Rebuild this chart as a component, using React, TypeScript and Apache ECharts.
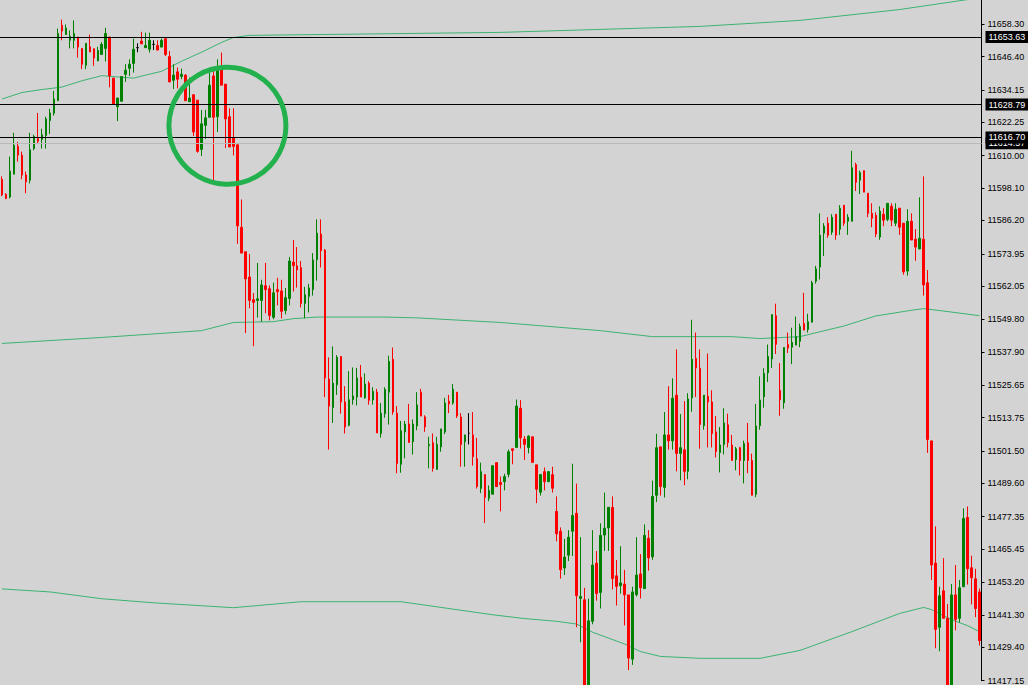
import React, { useEffect, useRef } from "react";
import * as echarts from "echarts";

// [open, close, low, high]
const candles: number[][] = [
  [11601.3, 11595.6, 11595.1, 11602.4], [11595.8, 11594.3, 11594.0, 11596.2], [11594.8, 11604.3, 11594.3, 11609.7], [11603.2, 11613.8, 11603.2, 11618.4],
  [11613.4, 11610.2, 11607.8, 11615.1], [11610.2, 11602.9, 11601.3, 11611.5], [11602.9, 11600.4, 11596.2, 11604.2], [11601.0, 11612.2, 11599.8, 11618.4],
  [11612.6, 11617.0, 11612.0, 11617.7], [11616.2, 11615.3, 11614.4, 11625.7], [11616.0, 11617.7, 11612.6, 11619.9], [11617.4, 11623.5, 11612.6, 11624.3],
  [11622.9, 11625.7, 11618.0, 11627.2], [11625.6, 11630.8, 11624.7, 11633.8], [11630.2, 11654.9, 11630.2, 11656.7], [11657.9, 11655.8, 11652.4, 11660.0],
  [11654.5, 11656.9, 11654.5, 11658.2], [11652.4, 11653.9, 11649.4, 11656.0], [11652.4, 11654.9, 11649.4, 11659.7], [11653.6, 11649.9, 11646.0, 11653.6],
  [11649.4, 11643.6, 11641.8, 11649.4], [11643.2, 11651.3, 11641.8, 11651.3], [11650.0, 11648.1, 11648.1, 11654.5], [11649.3, 11645.9, 11643.0, 11649.3],
  [11644.8, 11648.7, 11644.8, 11650.0], [11647.2, 11650.9, 11647.2, 11651.7], [11649.4, 11654.9, 11644.6, 11657.0], [11653.6, 11639.3, 11635.1, 11653.6],
  [11638.5, 11629.0, 11629.0, 11638.5], [11628.0, 11631.2, 11622.7, 11631.2], [11630.0, 11639.1, 11630.0, 11639.1], [11639.9, 11641.4, 11637.1, 11643.6],
  [11642.1, 11643.6, 11639.3, 11645.4], [11643.9, 11649.1, 11640.5, 11653.0], [11649.7, 11649.7, 11648.0, 11651.3], [11652.1, 11651.1, 11651.1, 11655.5],
  [11649.7, 11650.5, 11649.7, 11655.2], [11649.1, 11652.4, 11647.9, 11655.2], [11650.9, 11650.9, 11648.8, 11652.4], [11650.5, 11648.8, 11648.8, 11652.4],
  [11649.9, 11652.4, 11649.9, 11653.0], [11653.0, 11647.2, 11646.6, 11653.0], [11646.4, 11637.1, 11637.1, 11648.4], [11637.7, 11639.6, 11634.5, 11643.6],
  [11640.8, 11638.1, 11634.7, 11642.4], [11639.1, 11639.9, 11638.1, 11642.0], [11639.6, 11630.2, 11630.2, 11639.9], [11629.8, 11631.2, 11629.8, 11638.7],
  [11632.4, 11618.7, 11617.2, 11632.4], [11630.4, 11611.6, 11611.1, 11630.4], [11612.3, 11621.7, 11609.9, 11626.8], [11621.1, 11623.9, 11616.2, 11626.8],
  [11624.1, 11635.9, 11624.1, 11640.5], [11639.3, 11624.1, 11600.4, 11641.5], [11624.3, 11641.5, 11618.7, 11645.4], [11641.5, 11635.9, 11635.9, 11647.9],
  [11636.3, 11623.5, 11612.8, 11636.3], [11624.3, 11613.2, 11613.2, 11627.4], [11616.5, 11613.4, 11610.1, 11627.4], [11614.0, 11584.2, 11577.6, 11614.0],
  [11583.7, 11574.2, 11574.2, 11593.9], [11574.7, 11564.7, 11544.8, 11574.7], [11565.4, 11556.8, 11553.9, 11573.9], [11557.1, 11556.1, 11540.0, 11559.5],
  [11556.8, 11557.4, 11550.5, 11570.6], [11556.8, 11562.5, 11549.0, 11564.4], [11562.2, 11560.8, 11552.1, 11570.6], [11561.1, 11551.3, 11549.5, 11562.3],
  [11550.6, 11559.6, 11549.9, 11563.3], [11560.8, 11560.0, 11555.0, 11565.1], [11560.3, 11552.8, 11550.2, 11564.4], [11553.1, 11557.8, 11551.7, 11561.4],
  [11557.5, 11571.3, 11555.0, 11572.8], [11570.9, 11569.6, 11560.1, 11579.0], [11569.5, 11568.0, 11561.5, 11576.4], [11568.8, 11555.7, 11554.2, 11571.3],
  [11555.7, 11558.9, 11550.2, 11561.8], [11558.3, 11561.4, 11552.4, 11562.9], [11560.8, 11571.7, 11558.6, 11574.2], [11571.8, 11581.5, 11564.1, 11586.6],
  [11581.2, 11575.1, 11568.9, 11586.6], [11575.3, 11528.3, 11521.3, 11575.7], [11527.9, 11518.0, 11502.0, 11535.9], [11517.4, 11526.4, 11511.8, 11539.9],
  [11525.8, 11535.9, 11522.1, 11536.7], [11536.2, 11519.5, 11515.2, 11536.2], [11519.5, 11510.3, 11507.9, 11525.3], [11510.9, 11520.3, 11510.6, 11530.8],
  [11520.3, 11521.7, 11518.5, 11532.2], [11521.3, 11528.3, 11518.2, 11532.0], [11528.6, 11521.3, 11521.3, 11533.1], [11521.0, 11526.1, 11520.7, 11530.0],
  [11526.4, 11520.1, 11518.5, 11527.1], [11520.3, 11523.4, 11518.5, 11524.9], [11523.1, 11508.1, 11508.1, 11524.3], [11507.9, 11515.4, 11506.4, 11519.1],
  [11515.2, 11524.1, 11513.7, 11524.9], [11523.1, 11534.4, 11511.2, 11536.5], [11535.2, 11515.8, 11514.8, 11539.5], [11515.4, 11496.9, 11493.3, 11518.0],
  [11496.6, 11508.9, 11493.5, 11512.5], [11508.5, 11511.4, 11498.8, 11512.5], [11511.4, 11504.6, 11504.6, 11518.8], [11504.9, 11511.4, 11500.2, 11513.1],
  [11510.7, 11518.4, 11509.1, 11523.1], [11523.1, 11514.3, 11514.3, 11524.3], [11514.0, 11510.3, 11508.5, 11514.6], [11503.4, 11503.9, 11495.1, 11506.7],
  [11504.5, 11495.1, 11493.9, 11507.9], [11494.7, 11503.9, 11494.7, 11506.7], [11503.0, 11509.6, 11501.2, 11509.6], [11508.5, 11519.1, 11507.7, 11521.0],
  [11519.8, 11518.8, 11515.4, 11522.1], [11519.1, 11524.2, 11518.5, 11526.1], [11523.1, 11514.3, 11513.6, 11523.1], [11514.0, 11503.9, 11495.7, 11515.4],
  [11504.9, 11507.4, 11495.7, 11507.4], [11508.0, 11508.0, 11503.9, 11515.4], [11507.4, 11499.4, 11496.1, 11515.8], [11498.6, 11488.4, 11487.7, 11506.3],
  [11487.7, 11493.9, 11486.0, 11497.2], [11492.8, 11484.4, 11475.0, 11492.8], [11484.1, 11487.0, 11483.0, 11488.8], [11485.6, 11496.1, 11485.6, 11496.1],
  [11497.2, 11488.4, 11488.4, 11497.2], [11489.9, 11489.2, 11479.3, 11492.1], [11490.2, 11492.1, 11487.0, 11493.1], [11492.9, 11501.2, 11491.8, 11502.0],
  [11502.3, 11501.7, 11496.6, 11502.3], [11502.8, 11518.0, 11502.8, 11520.4], [11517.2, 11506.3, 11502.4, 11520.2], [11505.9, 11503.9, 11498.2, 11507.0],
  [11502.8, 11506.9, 11500.6, 11507.3], [11506.7, 11497.3, 11497.3, 11506.7], [11496.4, 11487.4, 11482.3, 11496.4], [11486.3, 11492.8, 11485.1, 11492.8],
  [11493.9, 11490.2, 11487.0, 11495.4], [11490.2, 11493.9, 11490.2, 11493.9], [11492.8, 11487.8, 11486.2, 11495.7], [11479.3, 11471.0, 11468.3, 11484.8],
  [11472.0, 11457.8, 11454.6, 11473.4], [11458.5, 11462.5, 11455.9, 11469.2], [11463.2, 11469.8, 11461.0, 11472.4], [11472.0, 11477.8, 11462.9, 11496.8],
  [11478.6, 11448.3, 11436.7, 11489.5], [11447.3, 11448.0, 11431.2, 11469.8], [11446.8, 11411.7, 11408.1, 11451.2], [11411.7, 11439.1, 11409.9, 11447.2],
  [11438.9, 11459.6, 11437.8, 11472.4], [11460.3, 11449.1, 11446.5, 11464.7], [11449.5, 11470.5, 11443.6, 11474.9], [11470.6, 11473.1, 11464.8, 11486.2],
  [11473.2, 11480.8, 11464.8, 11480.8], [11480.8, 11454.6, 11450.6, 11484.8], [11455.6, 11451.7, 11444.7, 11461.4], [11452.0, 11453.0, 11449.1, 11466.5],
  [11452.6, 11448.6, 11437.4, 11457.8], [11448.6, 11425.4, 11421.0, 11448.6], [11425.0, 11449.7, 11422.9, 11451.6], [11448.7, 11455.9, 11448.0, 11469.8],
  [11456.3, 11451.2, 11447.3, 11463.6], [11450.9, 11470.5, 11450.9, 11474.5], [11469.4, 11462.2, 11457.5, 11472.4], [11462.6, 11484.8, 11461.5, 11490.6],
  [11485.2, 11502.7, 11482.7, 11507.8], [11503.0, 11488.4, 11485.1, 11503.0], [11488.1, 11507.4, 11484.4, 11515.8], [11507.4, 11505.2, 11502.0, 11525.3],
  [11505.2, 11520.9, 11502.0, 11528.2], [11522.0, 11500.6, 11494.0, 11538.8], [11500.6, 11502.7, 11490.7, 11515.1], [11501.9, 11494.0, 11488.9, 11519.8],
  [11494.0, 11520.6, 11491.1, 11522.7], [11521.0, 11535.2, 11515.9, 11549.7], [11535.5, 11532.0, 11521.3, 11545.0], [11531.9, 11511.2, 11502.3, 11538.8],
  [11510.8, 11522.0, 11509.3, 11522.0], [11521.6, 11519.5, 11502.8, 11537.3], [11519.5, 11507.9, 11502.8, 11523.8], [11508.5, 11501.3, 11499.1, 11514.3],
  [11500.9, 11503.7, 11493.6, 11510.3], [11503.9, 11511.8, 11500.2, 11517.2], [11511.1, 11504.6, 11502.8, 11515.2], [11503.7, 11498.0, 11498.0, 11507.4],
  [11498.3, 11502.3, 11494.4, 11503.0], [11502.7, 11498.0, 11492.5, 11503.0], [11498.0, 11504.2, 11489.6, 11505.3], [11504.5, 11498.0, 11493.3, 11511.8],
  [11498.0, 11485.2, 11485.2, 11500.5], [11485.6, 11510.7, 11484.5, 11518.8], [11510.8, 11520.2, 11509.3, 11528.9], [11521.4, 11530.0, 11517.4, 11531.9],
  [11530.2, 11536.2, 11526.8, 11540.6], [11535.3, 11551.6, 11532.0, 11551.6], [11551.2, 11540.7, 11537.1, 11555.6], [11523.8, 11520.3, 11514.4, 11533.8],
  [11519.2, 11539.5, 11517.0, 11539.5], [11540.6, 11539.3, 11537.5, 11545.0], [11539.6, 11541.4, 11533.4, 11546.8], [11540.4, 11543.5, 11540.4, 11550.9],
  [11541.8, 11547.2, 11539.6, 11548.3], [11548.3, 11545.9, 11545.9, 11559.6], [11546.1, 11549.0, 11545.0, 11551.9], [11548.8, 11563.3, 11548.8, 11564.0],
  [11563.9, 11568.4, 11563.0, 11569.5], [11569.1, 11580.8, 11564.5, 11588.8], [11581.5, 11584.1, 11573.1, 11585.2], [11585.2, 11580.8, 11579.8, 11587.4],
  [11581.9, 11587.4, 11580.9, 11588.5], [11588.5, 11580.8, 11579.1, 11588.5], [11583.0, 11590.7, 11580.9, 11591.8], [11591.8, 11585.2, 11584.2, 11591.8],
  [11585.9, 11587.4, 11580.9, 11588.5], [11585.9, 11605.6, 11585.9, 11611.8], [11606.7, 11600.2, 11597.0, 11607.4], [11601.0, 11603.8, 11595.9, 11604.5],
  [11604.5, 11596.6, 11596.6, 11604.5], [11596.2, 11588.8, 11587.4, 11596.2], [11588.8, 11587.0, 11583.7, 11592.5], [11588.1, 11581.2, 11580.1, 11589.2],
  [11580.1, 11589.6, 11579.1, 11591.4], [11588.5, 11586.3, 11584.1, 11590.7], [11586.6, 11592.5, 11585.9, 11592.5], [11591.4, 11586.3, 11584.1, 11592.5],
  [11585.2, 11590.3, 11584.1, 11592.5], [11590.7, 11583.7, 11580.9, 11590.7], [11585.2, 11567.3, 11566.3, 11585.2], [11567.6, 11585.9, 11565.9, 11590.3],
  [11585.9, 11579.0, 11579.0, 11588.8], [11579.3, 11576.4, 11571.4, 11583.0], [11575.7, 11579.7, 11575.7, 11594.7], [11579.3, 11562.5, 11558.6, 11602.4],
  [11563.3, 11505.7, 11500.8, 11568.0], [11505.2, 11459.6, 11454.1, 11505.2], [11460.3, 11435.9, 11429.0, 11473.8], [11436.7, 11448.3, 11427.9, 11451.6],
  [11450.1, 11440.0, 11440.0, 11462.1], [11440.0, 11411.7, 11408.1, 11445.3], [11411.7, 11448.6, 11409.9, 11452.6], [11448.6, 11439.6, 11435.6, 11459.6],
  [11440.0, 11451.2, 11438.5, 11454.1], [11451.6, 11476.7, 11451.6, 11480.4], [11477.1, 11458.2, 11452.4, 11481.1], [11458.6, 11454.9, 11445.1, 11463.0],
  [11454.5, 11443.6, 11440.4, 11458.2], [11449.7, 11431.8, 11430.0, 11450.9],
];

// envelope / band lines: [candle index, price]
const upperBand: number[][] = [
  [0, 11630.8], [5, 11633.2], [10, 11634.3], [15, 11635.2], [20, 11637.5], [25, 11639.4], [30, 11638.8], [33, 11638.5],
  [36, 11639.6], [40, 11641.0], [45, 11644.7], [50, 11648.0], [55, 11651.6], [58, 11653.4], [62, 11654.2], [125, 11655.3],
  [175, 11657.5], [200, 11659.7], [225, 11663.7], [245, 11668.0],
];
const middleBand: number[][] = [
  [0, 11541.0], [25, 11543.2], [50, 11545.7], [58, 11548.7], [68, 11549.0], [73, 11550.1], [79, 11550.7], [96, 11550.7],
  [104, 11550.4], [125, 11548.7], [150, 11545.7], [163, 11543.5], [183, 11543.5], [190, 11542.8], [200, 11543.5], [205, 11545.3],
  [211, 11547.4], [219, 11551.1], [228, 11553.2], [231, 11553.8], [236, 11552.9], [245, 11551.2],
];
const lowerBand: number[][] = [
  [0, 11450.8], [12, 11449.7], [25, 11447.2], [38, 11445.7], [58, 11443.9], [75, 11446.1], [100, 11446.1], [123, 11441.3],
  [131, 11439.9], [139, 11438.9], [144, 11437.9], [148, 11434.9], [156, 11430.6], [160, 11427.8], [165, 11426.0], [175, 11425.3],
  [190, 11425.3], [200, 11428.2], [213, 11435.1], [225, 11441.8], [231, 11444.0], [233, 11443.2], [238, 11439.5], [242, 11437.3],
  [245, 11435.1],
];

const tickValues: number[] = [
  11658.3, 11646.4, 11634.15, 11622.25, 11610.0, 11598.1, 11586.2, 11573.95, 11562.05, 11549.8, 11537.9,
  11525.65, 11513.75, 11501.5, 11489.6, 11477.35, 11465.45, 11453.2, 11441.3, 11429.4, 11417.15,
];

const bidLevel = 11614.57;
const levels: number[] = [11616.7, 11628.79, 11653.63];
const circleCenter = { from: 56, to: 57, price: 11621.0 };

const categories = candles.map((_, i) => String(i));

const FONT = "'Liberation Sans', Arial, sans-serif";

export default function App() {
  const ref = useRef<HTMLDivElement>(null);
  useEffect(() => {
    if (!ref.current) return;
    const chart = echarts.init(ref.current, undefined, { renderer: "svg" });
    const levelLabel = {
      show: true,
      position: "end",
      distance: 4,
      formatter: (p: any) => Number(p.value).toFixed(2),
      color: "#ffffff",
      backgroundColor: "#000000",
      fontFamily: FONT,
      fontSize: 9,
      padding: [2, 3, 1, 3],
    };
    chart.setOption({
      animation: false,
      backgroundColor: "#d3d3d3",
      grid: { left: -2.5, right: 46.5, top: 0, bottom: 0, containLabel: false },
      xAxis: {
        type: "category",
        data: categories,
        boundaryGap: true,
        show: false,
      },
      yAxis: {
        type: "value",
        position: "right",
        min: 11417.1,
        max: 11667.2,
        scale: true,
        splitLine: { show: false },
        axisLine: { show: true, lineStyle: { color: "#000000", width: 1 } },
        axisTick: { show: true, length: 3, customValues: tickValues, lineStyle: { color: "#000000" } },
        axisLabel: {
          show: true,
          customValues: tickValues,
          formatter: (v: number) => v.toFixed(2),
          color: "#000000",
          fontFamily: FONT,
          fontSize: 9,
          margin: 6,
          showMinLabel: true,
          showMaxLabel: true,
        },
      },
      series: [
        {
          type: "line",
          data: upperBand,
          symbol: "none",
          silent: true,
          lineStyle: { color: "#3cb371", width: 1 },
          z: 1,
        },
        {
          type: "line",
          data: middleBand,
          symbol: "none",
          silent: true,
          lineStyle: { color: "#3cb371", width: 1 },
          z: 1,
        },
        {
          type: "line",
          data: lowerBand,
          symbol: "none",
          silent: true,
          lineStyle: { color: "#3cb371", width: 1 },
          z: 1,
        },
        {
          type: "candlestick",
          data: candles,
          barWidth: 2,
          clip: true,
          z: 3,
          itemStyle: {
            color: "#008000",
            color0: "#ff0000",
            borderColor: "#008000",
            borderColor0: "#ff0000",
            borderColorDoji: "#000000",
            borderWidth: 1,
          },
          markLine: {
            silent: true,
            symbol: ["none", "none"],
            precision: 2,
            animation: false,
            data: [
              { yAxis: bidLevel, lineStyle: { color: "#b9b9b9", type: "solid", width: 1 }, label: levelLabel },
              ...levels.map((v) => ({
                yAxis: v,
                lineStyle: { color: "#000000", type: "solid", width: 1 },
                label: levelLabel,
              })),
            ],
          },
        },
      ],
    });
    const p1 = chart.convertToPixel({ xAxisIndex: 0, yAxisIndex: 0 }, [circleCenter.from, circleCenter.price]) as number[];
    const p2 = chart.convertToPixel({ xAxisIndex: 0, yAxisIndex: 0 }, [circleCenter.to, circleCenter.price]) as number[];
    chart.setOption({
      graphic: [
        {
          type: "circle",
          shape: { cx: (p1[0] + p2[0]) / 2, cy: p1[1], r: 58.5 },
          style: { fill: "none", stroke: "#22b14c", lineWidth: 5 },
          z: 100,
          silent: true,
        },
      ],
    });
    return () => chart.dispose();
  }, []);
  return (
    <div
      ref={ref}
      style={{ position: "fixed", left: 0, top: 0, width: 1028, height: 685, background: "#d3d3d3" }}
    />
  );
}
